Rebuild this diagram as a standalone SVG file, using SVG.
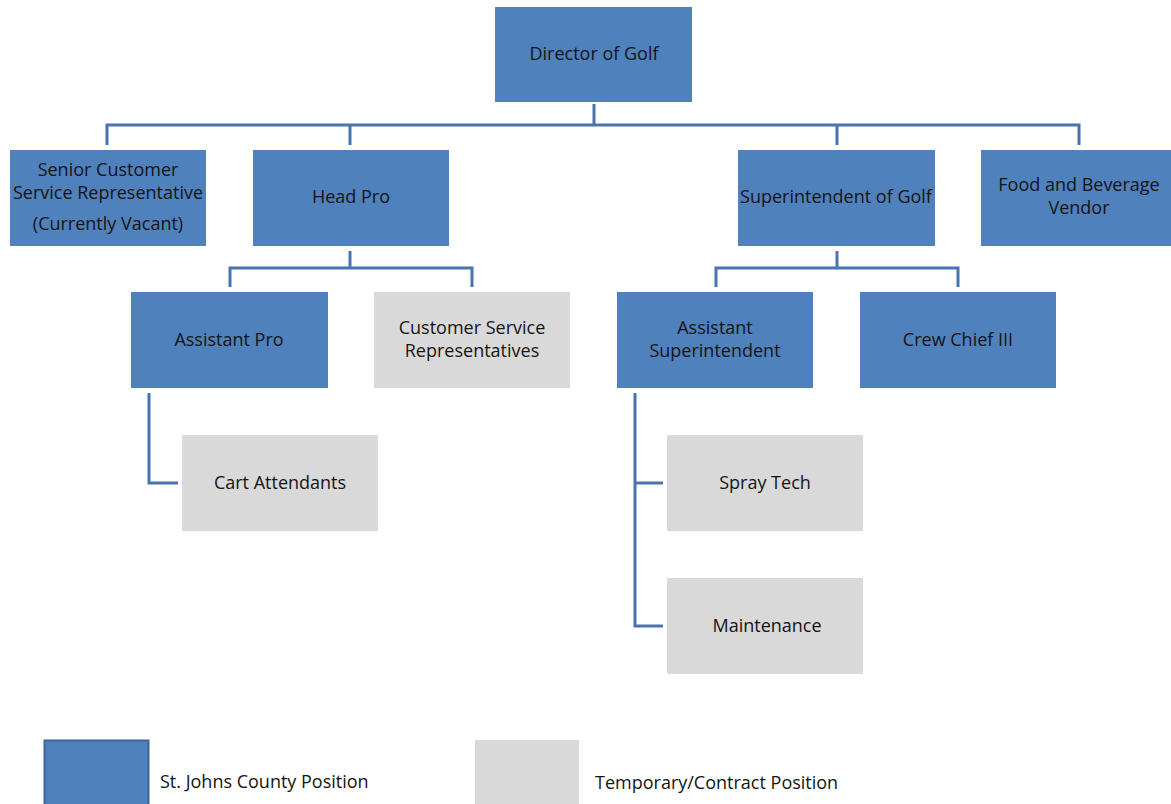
<svg xmlns="http://www.w3.org/2000/svg" width="1171" height="804" viewBox="0 0 1171 804">
<style>
.b{fill:#4F81BD}
.g{fill:#D9D9D9}
.t{font-family:"Open Sans","Liberation Sans",sans-serif;font-size:18px;fill:#141414;text-anchor:middle}
.l{font-family:"Open Sans","Liberation Sans",sans-serif;font-size:18px;fill:#141414}
.c{fill:none;stroke:#4A74AE;stroke-width:3;stroke-linecap:butt;stroke-linejoin:miter}
</style>
<rect width="1171" height="804" fill="#fff"/>
<g id="connectors">
<path class="c" d="M594 104V125M107 145V125H1079V145M350 125V145M837 125V145"/>
<path class="c" d="M350 251V268M230 287V268H472V287"/>
<path class="c" d="M837 251V268M716 287V268H958V287"/>
<path class="c" d="M149 393V483H178"/>
<path class="c" d="M635 393V626H663M635 483H663"/>
</g>
<g id="director"><rect class="b" x="495" y="7" width="197" height="95"/><text class="t" x="594" y="60">Director of Golf</text></g>
<g id="senior-csr"><rect class="b" x="10" y="150" width="196" height="96"/><text class="t" x="108" y="176">Senior Customer</text><text class="t" x="108" y="199">Service Representative</text><text class="t" x="108" y="230">(Currently Vacant)</text></g>
<g id="head-pro"><rect class="b" x="253" y="150" width="196" height="96"/><text class="t" x="351" y="203">Head Pro</text></g>
<g id="superintendent"><rect class="b" x="738" y="150" width="197" height="96"/><text class="t" x="836" y="203">Superintendent of Golf</text></g>
<g id="food-beverage"><rect class="b" x="981" y="150" width="190" height="96"/><text class="t" x="1079" y="191">Food and Beverage</text><text class="t" x="1079" y="214">Vendor</text></g>
<g id="assistant-pro"><rect class="b" x="131" y="292" width="197" height="96"/><text class="t" x="229" y="346">Assistant Pro</text></g>
<g id="csr"><rect class="g" x="374" y="292" width="196" height="96"/><text class="t" x="472" y="334">Customer Service</text><text class="t" x="472" y="357">Representatives</text></g>
<g id="assistant-superintendent"><rect class="b" x="617" y="292" width="196" height="96"/><text class="t" x="715" y="334">Assistant</text><text class="t" x="715" y="357">Superintendent</text></g>
<g id="crew-chief"><rect class="b" x="860" y="292" width="196" height="96"/><text class="t" x="958" y="346">Crew Chief III</text></g>
<g id="cart-attendants"><rect class="g" x="182" y="435" width="196" height="96"/><text class="t" x="280" y="489">Cart Attendants</text></g>
<g id="spray-tech"><rect class="g" x="667" y="435" width="196" height="96"/><text class="t" x="765" y="489">Spray Tech</text></g>
<g id="maintenance"><rect class="g" x="667" y="578" width="196" height="96"/><text class="t" x="767" y="632">Maintenance</text></g>
<g id="legend">
<rect x="44.5" y="740.5" width="104" height="66" fill="#4F81BD" stroke="#3C679A" stroke-width="2"/>
<text class="l" x="160" y="788">St. Johns County Position</text>
<rect class="g" x="475" y="740" width="104" height="66"/>
<text class="l" x="595" y="789">Temporary/Contract Position</text>
</g>
</svg>
